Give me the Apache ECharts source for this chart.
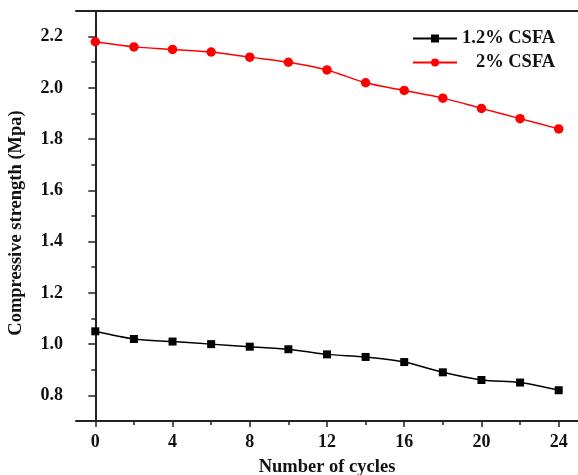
<!DOCTYPE html>
<html>
<head>
<meta charset="utf-8">
<script src="https://cdn.jsdelivr.net/npm/echarts@6/dist/echarts.min.js"></script>
<style>
  html, body { margin: 0; padding: 0; background: #fff; }
  #chart { width: 578px; height: 475px; }
</style>
</head>
<body>
<div id="chart"></div>
<script>
var cycles = [0, 2, 4, 6, 8, 10, 12, 14, 16, 18, 20, 22, 24];
var csfa12 = [1.05, 1.02, 1.01, 1.00, 0.99, 0.98, 0.96, 0.95, 0.93, 0.89, 0.86, 0.85, 0.82];
var csfa2 = [2.18, 2.16, 2.15, 2.14, 2.12, 2.10, 2.07, 2.02, 1.99, 1.96, 1.92, 1.88, 1.84];
var xMajor = [0, 4, 8, 12, 16, 20, 24];
var xMinor = [2, 6, 10, 14, 18, 22];
var yMajor = [0.8, 1.0, 1.2, 1.4, 1.6, 1.8, 2.0, 2.2];
var yMinor = [0.9, 1.1, 1.3, 1.5, 1.7, 1.9, 2.1];

function pairs(xs, ys) {
  return xs.map(function (x, i) { return [x, ys[i]]; });
}

var font = '"Liberation Serif", "Times New Roman", serif';
var axisColor = '#222';
var labelStyle = { fontFamily: font, fontWeight: 'bold', fontSize: 18, color: '#111' };

var chart = echarts.init(document.getElementById('chart'));
chart.setOption({
  animation: false,
  textStyle: { fontFamily: font },
  grid: { left: 76, top: 11, right: 0, bottom: 54, outerBoundsMode: 'none', containLabel: false },
  legend: {
    left: 407,
    top: 24,
    orient: 'vertical',
    itemWidth: 44,
    itemHeight: 10,
    itemGap: 5,
    textStyle: { fontFamily: font, fontWeight: 'bold', fontSize: 18.5, color: '#111' },
    formatter: function (name) { return name === '2% CSFA' ? '   2% CSFA' : name; },
    data: ['1.2% CSFA', '2% CSFA']
  },
  xAxis: [{
    type: 'value',
    min: -1,
    max: 25,
    name: 'Number of cycles',
    nameLocation: 'middle',
    nameGap: 37,
    nameTextStyle: { fontFamily: font, fontWeight: 'bold', fontSize: 18.5, color: '#111' },
    axisLine: { show: true, lineStyle: { color: axisColor, width: 2 } },
    axisTick: { show: true, length: 6, lineStyle: { color: axisColor, width: 1.5 }, customValues: xMajor },
    axisLabel: Object.assign({ margin: 12, customValues: xMajor }, labelStyle),
    splitLine: { show: false }
  }, {
    type: 'value',
    position: 'top',
    min: -1,
    max: 25,
    axisLine: { show: true, lineStyle: { color: axisColor, width: 2 } },
    axisTick: { show: false },
    axisLabel: { show: false },
    splitLine: { show: false }
  }, {
    type: 'value',
    position: 'bottom',
    min: -1,
    max: 25,
    axisLine: { show: false },
    axisTick: { show: true, length: 4, lineStyle: { color: axisColor, width: 1.5 }, customValues: xMinor },
    axisLabel: { show: false },
    splitLine: { show: false }
  }],
  yAxis: [{
    type: 'value',
    min: 0.7,
    max: 2.3,
    name: 'Compressive strength (Mpa)',
    nameLocation: 'middle',
    nameGap: 50,
    nameTextStyle: { fontFamily: font, fontWeight: 'bold', fontSize: 18.5, color: '#111', padding: [0, 14, 0, 0] },
    axisLine: { show: true, lineStyle: { color: axisColor, width: 2 } },
    axisTick: { show: true, length: 7, lineStyle: { color: axisColor, width: 1.5 }, customValues: yMajor },
    axisLabel: Object.assign({ margin: 13, customValues: yMajor,
      formatter: function (v) { return v.toFixed(1); } }, labelStyle),
    splitLine: { show: false }
  }, {
    type: 'value',
    position: 'left',
    min: 0.7,
    max: 2.3,
    axisLine: { show: false },
    axisTick: { show: true, length: 4, lineStyle: { color: axisColor, width: 1.5 }, customValues: yMinor },
    axisLabel: { show: false },
    splitLine: { show: false }
  }],
  series: [{
    name: '1.2% CSFA',
    type: 'line',
    smooth: 0.3,
    symbol: 'rect',
    symbolSize: 8,
    data: pairs(cycles, csfa12),
    itemStyle: { color: '#000' },
    lineStyle: { color: '#000', width: 1.5 }
  }, {
    name: '2% CSFA',
    type: 'line',
    smooth: 0.3,
    symbol: 'circle',
    symbolSize: 9.5,
    data: pairs(cycles, csfa2),
    itemStyle: { color: '#ff0000' },
    lineStyle: { color: '#ff0000', width: 1.5 }
  }]
});
</script>
</body>
</html>
